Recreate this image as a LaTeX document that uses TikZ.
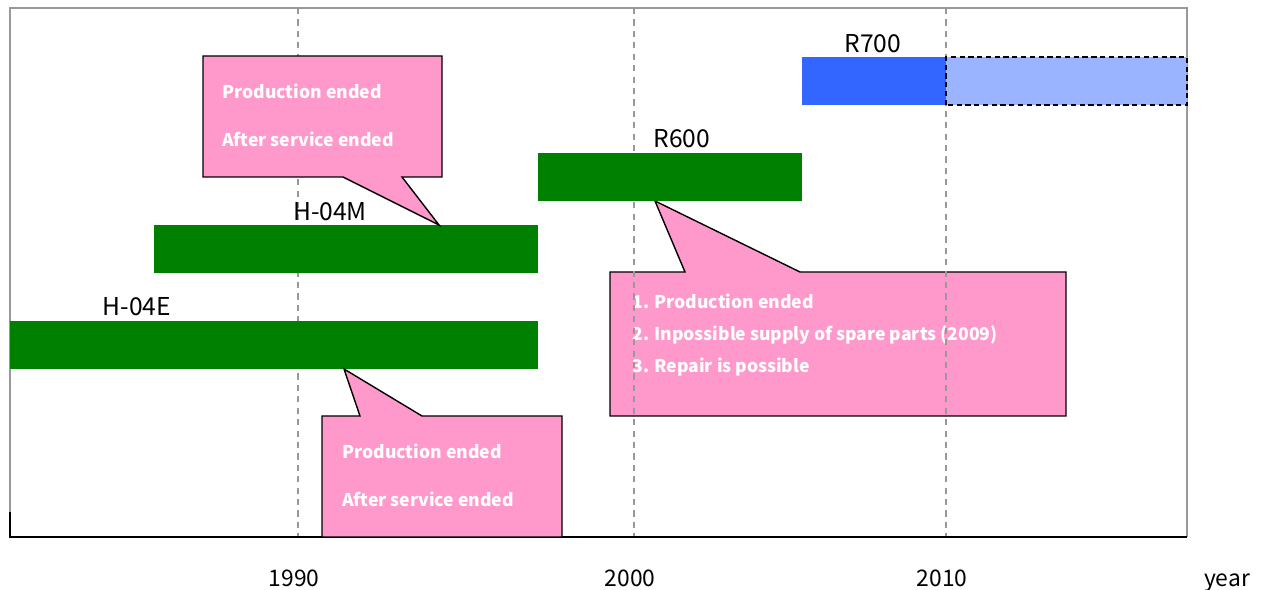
\documentclass[tikz,border=0pt]{standalone}
\usepackage{fontspec}
\setmainfont{Noto Sans CJK JP}
\usetikzlibrary{fit}

\definecolor{barGreen}{HTML}{008000}
\definecolor{barBlue}{HTML}{3366FF}
\definecolor{planBlue}{HTML}{9BB4FF}
\definecolor{notePink}{HTML}{FF99CC}
\definecolor{frameGray}{HTML}{999999}

\tikzset{
  bar/.style={fill=barGreen, inner sep=0pt, outer sep=0pt},
  model/.style={font=\fontsize{14}{16}\selectfont},
  yearlabel/.style={anchor=base, font=\fontsize{13}{15}\selectfont},
  note/.style={fill=notePink, draw=black, line width=0.8pt},
  notetext/.style={anchor=base west, inner sep=0pt, text=white, font=\bfseries\fontsize{10}{12}\selectfont},
  gridline/.style={frameGray, line width=0.8pt, dash pattern=on 3.5pt off 3pt}
}

\begin{document}
\begin{tikzpicture}[x=0.02cm, y=-0.02cm]
  \useasboundingbox (0,0) rectangle (1264,590);

  \filldraw[note] (610,272) -- (685,272) -- (655,201) -- (800,272) -- (1066,272)
    -- (1066,416) -- (610,416) -- cycle;
  \node[notetext] (r600a) at (632,309) {1. Production ended};
  \node[notetext] (r600b) at (632,341) {2. Inpossible supply of spare parts (2009)};
  \node[notetext] (r600c) at (632,373) {3. Repair is possible};

  \draw[frameGray, line width=0.8pt] (10,537) -- (10,8) -- (1187,8) -- (1187,537);
  \foreach \x in {298,634,946}
    \draw[gridline] (\x,8) -- (\x,537);
  \draw[line width=0.9pt] (10,512) -- (10,537) -- (1187,537);

  \node[bar, fit={(10,321) (538,369)}] (h04e) {};
  \node[bar, fit={(154,225) (538,273)}] (h04m) {};
  \node[bar, fit={(538,153) (802,201)}] (r600) {};
  \node[bar, fill=barBlue, fit={(802,57) (946,105)}] (r700) {};
  \node[bar, fill=planBlue, fit={(946,57) (1187,105)}] (r700plan) {};
  \draw[line width=0.9pt, dash pattern=on 3pt off 2pt] (r700plan.south west) rectangle (r700plan.north east);

  \node[model] (lh04e) at (137,307) {H-04E};
  \node[model] (lh04m) at (330,212) {H-04M};
  \node[model] (lr600) at (682,139) {R600};
  \node[model] (lr700) at (873,44) {R700};

  \filldraw[note] (203,56) -- (442,56) -- (442,177) -- (402,177) -- (439,225)
    -- (343,177) -- (203,177) -- cycle;
  \node[notetext] (h04ma) at (222,99) {Production ended};
  \node[notetext] (h04mb) at (222,147) {After service ended};

  \filldraw[note] (322,416) -- (360,416) -- (344,369) -- (422,416) -- (562,416)
    -- (562,537) -- (322,537) -- cycle;
  \node[notetext] (h04ea) at (342,459) {Production ended};
  \node[notetext] (h04eb) at (342,507) {After service ended};

  \node[yearlabel] (y1990) at (294,587) {1990};
  \node[yearlabel] (y2000) at (630,587) {2000};
  \node[yearlabel] (y2010) at (942,587) {2010};
  \node[yearlabel] (year) at (1227,587) {year};
\end{tikzpicture}
\end{document}
